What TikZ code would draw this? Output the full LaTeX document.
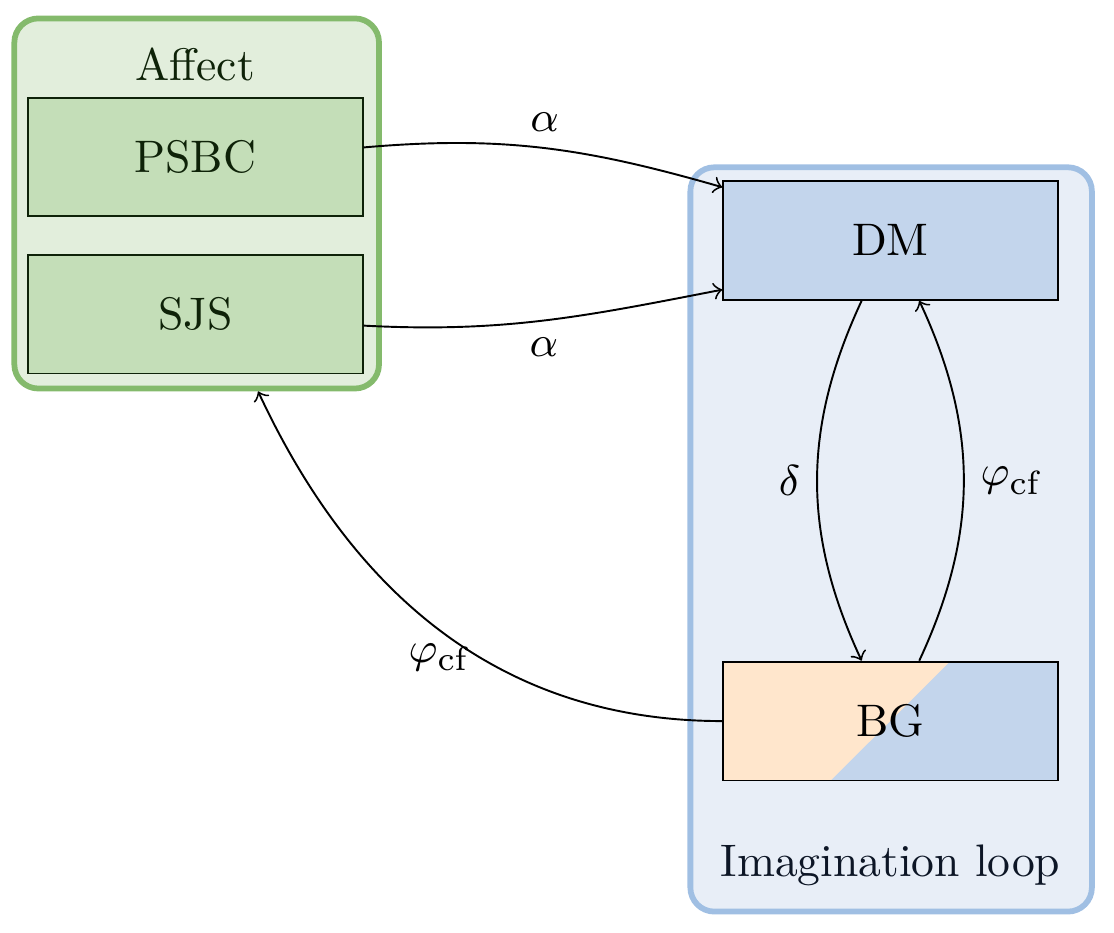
\documentclass[tikz,border=0pt]{standalone}
\usepackage{xcolor}
\usepackage{tikz}
\definecolor{affectLine}{HTML}{84BA6C}
\definecolor{affectBack}{HTML}{E2EEDC}
\definecolor{affectFill}{HTML}{C4DEB8}
\definecolor{affectText}{HTML}{0E2208}
\definecolor{loopLine}{HTML}{A0BFE3}
\definecolor{loopBack}{HTML}{E8EEF7}
\definecolor{loopFill}{HTML}{C3D5EC}
\definecolor{loopText}{HTML}{0D1626}
\definecolor{bgOrange}{HTML}{FFE6CC}

\begin{document}
\begin{tikzpicture}[
    font=\fontsize{9.5pt}{11pt}\selectfont,
    group/.style={rectangle, very thick, rounded corners=5pt},
    block/.style={rectangle, draw, minimum width=2.45cm, minimum height=0.87cm},
    arrow/.style={->, thin}
]
\useasboundingbox (0,0) rectangle (8.157,-6.831);

\node[group, draw=affectLine, fill=affectBack, minimum width=2.67cm, minimum height=2.71cm] (affect) at (1.44,-1.49) {};
\node[group, draw=loopLine, fill=loopBack, minimum width=2.94cm, minimum height=5.45cm] (loop) at (6.525,-3.95) {};

\node[anchor=base, text=affectText] (affectlabel) at (1.43,-0.59) {Affect};
\node[anchor=base, text=loopText] (looplabel) at (6.52,-6.42) {Imagination loop};

\node[block, draw=affectText, fill=affectFill, text=affectText] (psbc) at (1.43,-1.15) {PSBC};
\node[block, draw=affectText, fill=affectFill, text=affectText] (sjs) at (1.43,-2.30) {SJS};
\node[block, fill=loopFill] (dm) at (6.52,-1.76) {DM};
\node[block, fill=bgOrange, path picture={
    \fill[loopFill] (path picture bounding box.south east) -- (path picture bounding box.north east)
        -- ([xshift=12.4pt]path picture bounding box.north) -- ([xshift=-12.4pt]path picture bounding box.south) -- cycle;
}] (bg) at (6.52,-5.28) {BG};

\draw[arrow] ([yshift=2pt]psbc.east) to[out=5, in=164] node[above] {$\alpha$} ([yshift=-1.5pt]dm.north west);
\draw[arrow] ([yshift=-2.4pt]sjs.east) to[out=-3, in=191] node[below] {$\alpha$} ([yshift=2.3pt]dm.south west);
\draw[arrow] ([xshift=-6pt]dm.south) to[bend right=25] node[left] {$\delta$} ([xshift=-6pt]bg.north);
\draw[arrow] ([xshift=6pt]bg.north) to[bend right=25] node[right] {$\varphi_{\mathrm{cf}}$} ([xshift=6pt]dm.south);
\draw[arrow] (bg.west) to[out=180, in=-65] node[pos=0.42, left, inner sep=1.5pt] {$\varphi_{\mathrm{cf}}$} ([xshift=12.8pt]affect.south);

\end{tikzpicture}
\end{document}
